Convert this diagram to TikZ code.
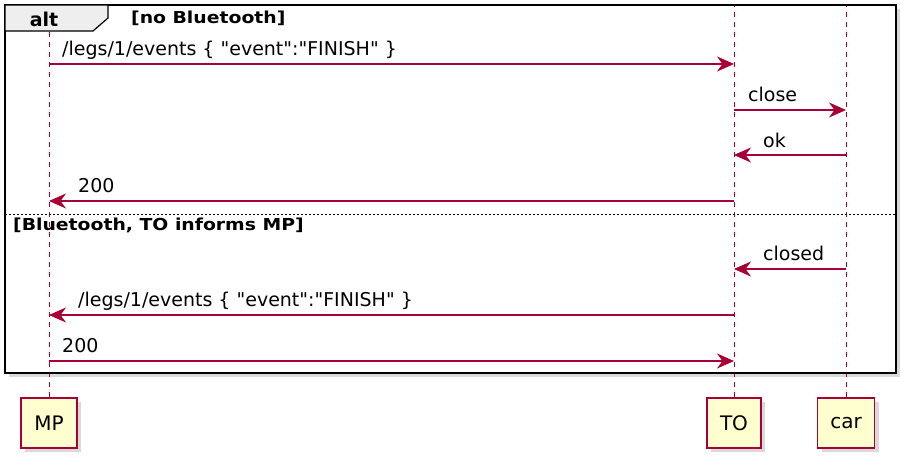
\documentclass[tikz,border=0pt]{standalone}
\usepackage{fontspec}
\setmainfont[Ligatures=TeXOff]{DejaVu Sans}
\newfontfamily\guardfont[FakeStretch=1.14]{DejaVu Sans}
\usetikzlibrary{shadows,arrows.meta}

\definecolor{umlred}{HTML}{A80036}
\definecolor{umlfill}{HTML}{FEFECE}
\definecolor{tabgray}{HTML}{EEEEEE}

\tikzset{
  msg/.style={umlred,line width=1.2pt,-{Stealth[length=17pt,width=15pt,inset=5.5pt]}},
  lifeline/.style={umlred,line width=0.9pt,dash pattern=on 5pt off 5pt},
  actor/.style={draw=umlred,fill=umlfill,line width=1.1pt,minimum height=50pt,
    inner sep=0pt,font=\fontsize{20}{22}\selectfont,
    drop shadow={shadow xshift=4pt,shadow yshift=-4pt,opacity=0.3}},
  msglabel/.style={anchor=base west,inner sep=0pt,font=\fontsize{19}{21}\selectfont},
  guard/.style={anchor=base west,inner sep=0pt,font=\fontsize{16.5}{18}\guardfont\bfseries}
}

\begin{document}
\begin{tikzpicture}[x=1pt,y=-1pt]
  \useasboundingbox (0,0) rectangle (906,464);

  % alt frame (white body, shadow)
  \path[fill=white,drop shadow={shadow xshift=4pt,shadow yshift=-4pt,opacity=0.3}]
    (5,5) rectangle (896,373);

  % participants
  \node[actor,minimum width=56pt] (MP)  at (49,423)  {MP};
  \node[actor,minimum width=54pt] (TO)  at (734,423) {TO};
  \node[actor,minimum width=57pt] (car) at (846,423) {car};

  % lifelines
  \draw[lifeline] (MP.north)  -- (MP.north |- 0,5);
  \draw[lifeline] (TO.north)  -- (TO.north |- 0,5);
  \draw[lifeline] (car.north) -- (car.north |- 0,5);

  % frame border and tab
  \draw[line width=2pt] (5,5) rectangle (896,373);
  \draw[line width=1.2pt,fill=tabgray] (5,5) -- (108,5) -- (108,18) -- (93,31) -- (5,31) -- cycle;
  \node[anchor=base,inner sep=0pt,font=\fontsize{19}{21}\selectfont\bfseries] (altlbl) at (44,26) {alt};
  \node[guard] (g1) at (131,23) {[no Bluetooth]};

  % first operand
  \draw[msg] (MP |- 0,64) -- (TO |- 0,64);
  \node[msglabel] (m1) at (62,55) {/legs/1/events \{ "event":"FINISH" \}};
  \draw[msg] (TO |- 0,110) -- (car |- 0,110);
  \node[msglabel] (m2) at (748,101) {close};
  \draw[msg] (car |- 0,155) -- (TO |- 0,155);
  \node[msglabel] (m3) at (763,147) {ok};
  \draw[msg] (TO |- 0,201) -- (MP |- 0,201);
  \node[msglabel] (m4) at (78,192) {200};

  % else separator
  \draw[line width=1pt,dash pattern=on 2pt off 2pt] (5,214) -- (896,214);
  \node[guard] (g2) at (13,230) {[Bluetooth, TO informs MP]};

  % second operand
  \draw[msg] (car |- 0,269) -- (TO |- 0,269);
  \node[msglabel] (m5) at (763,260) {closed};
  \draw[msg] (TO |- 0,315) -- (MP |- 0,315);
  \node[msglabel] (m6) at (78,306) {/legs/1/events \{ "event":"FINISH" \}};
  \draw[msg] (MP |- 0,361) -- (TO |- 0,361);
  \node[msglabel] (m7) at (62,352) {200};
\end{tikzpicture}
\end{document}
